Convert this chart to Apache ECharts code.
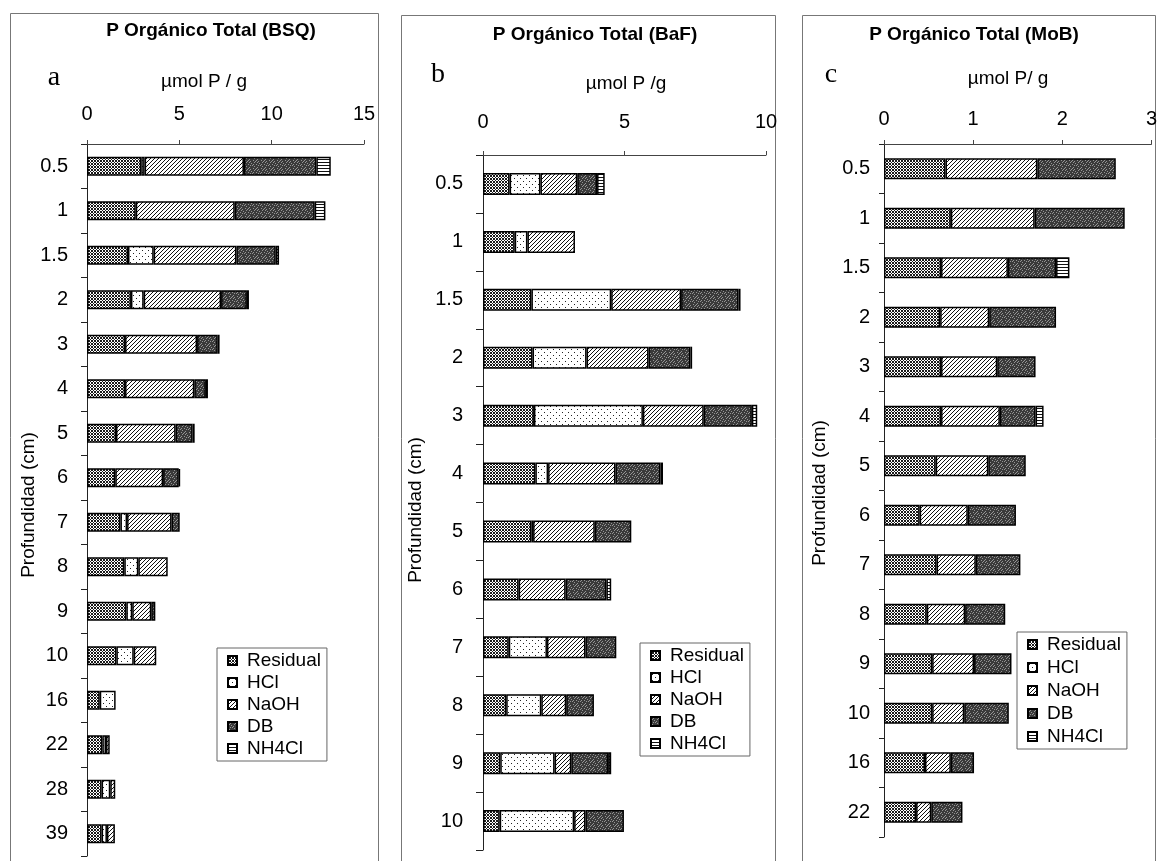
<!DOCTYPE html>
<html>
<head>
<meta charset="utf-8">
<script src="https://cdn.jsdelivr.net/npm/echarts@6/dist/echarts.min.js"></script>
<style>
  html, body { margin: 0; padding: 0; background: #fff; }
  #chart { width: 1160px; height: 861px; }
</style>
</head>
<body>
<div id="chart"></div>
<script>
// Fractions of organic P (µmol P / g) by depth, one set of arrays per core
const fractionNames = ['Residual', 'HCl', 'NaOH', 'DB', 'NH4Cl'];

// (a) BSQ
const depthsA   = ['0.5', '1', '1.5', '2', '3', '4', '5', '6', '7', '8', '9', '10', '16', '22', '28', '39'];
const residualA = [2.94, 2.64, 2.22, 2.38, 2.06, 2.06, 1.57, 1.53, 1.81, 2.02, 2.13, 1.59, 0.69, 0.83, 0.79, 0.79];
const hclA      = [0.18, 0, 1.39, 0.69, 0, 0, 0, 0, 0.36, 0.76, 0.32, 0.94, 0.86, 0.20, 0.47, 0.29];
const naohA     = [5.38, 5.36, 4.48, 4.19, 3.90, 3.75, 3.23, 2.59, 2.41, 1.59, 1.03, 1.22, 0, 0.20, 0.27, 0.43];
const dbA       = [3.92, 4.33, 2.13, 1.40, 1.12, 0.63, 0.92, 0.85, 0.44, 0, 0.22, 0, 0, 0, 0, 0];
const nh4clA    = [0.78, 0.58, 0.18, 0.11, 0.10, 0.11, 0.11, 0.07, 0, 0, 0, 0, 0, 0, 0, 0];
const ticksA    = { max: 15, interval: 5 };

// (b) BaF
const depthsB   = ['0.5', '1', '1.5', '2', '3', '4', '5', '6', '7', '8', '9', '10'];
const residualB = [0.94, 1.12, 1.71, 1.75, 1.80, 1.85, 1.71, 1.26, 0.91, 0.82, 0.61, 0.59];
const hclB      = [1.09, 0.45, 2.82, 1.91, 3.85, 0.45, 0.06, 0, 1.35, 1.24, 1.92, 2.63];
const naohB     = [1.30, 1.68, 2.47, 2.19, 2.15, 2.38, 2.18, 1.66, 1.36, 0.88, 0.59, 0.40];
const dbB       = [0.70, 0, 2.03, 1.48, 1.70, 1.59, 1.29, 1.44, 1.09, 0.98, 1.30, 1.36];
const nh4clB    = [0.27, 0, 0.07, 0.06, 0.19, 0.09, 0, 0.17, 0, 0, 0.11, 0];
const ticksB    = { max: 10, interval: 5 };

// (c) MoB
const depthsC   = ['0.5', '1', '1.5', '2', '3', '4', '5', '6', '7', '8', '9', '10', '16', '22'];
const residualC = [0.69, 0.75, 0.64, 0.63, 0.64, 0.64, 0.58, 0.40, 0.59, 0.48, 0.54, 0.54, 0.46, 0.36];
const hclC      = [0, 0, 0, 0, 0, 0, 0, 0, 0, 0, 0, 0, 0, 0];
const naohC     = [1.03, 0.94, 0.75, 0.55, 0.63, 0.66, 0.59, 0.54, 0.44, 0.43, 0.47, 0.36, 0.29, 0.17];
const dbC       = [0.88, 1.01, 0.54, 0.75, 0.43, 0.40, 0.42, 0.54, 0.50, 0.45, 0.42, 0.50, 0.26, 0.35];
const nh4clC    = [0, 0, 0.15, 0, 0, 0.09, 0, 0, 0, 0, 0, 0, 0, 0];
const ticksC    = { max: 3, interval: 1 };

const FONT = '"Liberation Sans", Arial, sans-serif';
const SERIF = '"Liberation Serif", "Times New Roman", serif';

// ---- fill textures for the five fractions ----
function tile(w, h, bg, fg, on) {
  const c = document.createElement('canvas');
  c.width = w; c.height = h;
  const ctx = c.getContext('2d');
  ctx.fillStyle = bg; ctx.fillRect(0, 0, w, h);
  ctx.fillStyle = fg;
  for (let y = 0; y < h; y++) for (let x = 0; x < w; x++) if (on(x, y)) ctx.fillRect(x, y, 1, 1);
  return { image: c, repeat: 'repeat' };
}
const speckle = [
  '10000100',
  '00100001',
  '01000010',
  '00010000',
  '10000100',
  '00101000',
  '00000010',
  '01000000'
];
const fills = [
  tile(3, 3, '#ffffff', '#1a1a1a', (x, y) => (x + y) % 3 === 0 || (x - y + 3) % 3 === 0), // cross-hatch
  tile(6, 6, '#ffffff', '#222222', (x, y) => (x === 1 && y === 1) || (x === 4 && y === 4)), // dots
  tile(4, 4, '#ffffff', '#111111', (x, y) => (x + y) % 4 === 0),                            // diagonal
  tile(8, 8, '#3a3a3a', '#949494', (x, y) => speckle[y][x] === '1'),                         // stipple
  tile(4, 3, '#ffffff', '#111111', (x, y) => y === 0)                                        // horizontal
];

function panelSeries(idx, cols, barWidth) {
  return fractionNames.map((name, i) => ({
    name,
    type: 'bar',
    stack: 'core' + idx,
    xAxisIndex: idx,
    yAxisIndex: idx,
    barWidth,
    data: cols[i].map(v => (v > 0 ? v : '-')),
    itemStyle: { color: fills[i], borderColor: '#000', borderWidth: 1.5 },
    emphasis: { disabled: true }
  }));
}

function xAxisFor(idx, t, margin) {
  return {
    type: 'value', gridIndex: idx, position: 'top', min: 0, max: t.max, interval: t.interval,
    axisLine: { show: true, lineStyle: { color: '#444', width: 1 } },
    axisTick: { show: true, length: 4, lineStyle: { color: '#444' } },
    axisLabel: { fontSize: 20, color: '#000', fontFamily: FONT, margin },
    splitLine: { show: false }
  };
}
function yAxisFor(idx, cats, margin, tickLen) {
  return {
    type: 'category', gridIndex: idx, inverse: true, data: cats,
    axisLine: { show: true, lineStyle: { color: '#222', width: 1 } },
    axisTick: { show: true, length: tickLen, lineStyle: { color: '#222' } },
    axisLabel: { fontSize: 20, color: '#000', fontFamily: FONT, margin }
  };
}
function legendAt(left, top, gap) {
  return {
    left, top, orient: 'vertical', data: fractionNames, icon: 'rect',
    itemWidth: 9, itemHeight: 9, itemGap: gap,
    borderColor: '#666', borderWidth: 1, padding: [3, 6, 3, 10],
    selectedMode: false,
    textStyle: { fontSize: 19, color: '#000', fontFamily: FONT, lineHeight: 18, padding: [0, 0, 0, 5] }
  };
}
function label(x, y, text, font, rotation) {
  return {
    type: 'text', x, y, rotation: rotation || 0, silent: true,
    style: { text, font, fill: '#000', align: 'center', verticalAlign: 'middle',
             textAlign: 'center', textVerticalAlign: 'middle' }
  };
}
function frame(x, y, w) {
  return { type: 'rect', silent: true, shape: { x, y, width: w, height: 900 },
           style: { fill: 'none', stroke: '#777', lineWidth: 1 } };
}

const chart = echarts.init(document.getElementById('chart'), null, { renderer: 'canvas' });
chart.setOption({
  animation: false,
  backgroundColor: '#fff',
  grid: [
    { left: 87, top: 144, width: 277, height: 712 },
    { left: 483, top: 155, width: 283, height: 695 },
    { left: 884, top: 144, width: 269, height: 693 }
  ],
  xAxis: [xAxisFor(0, ticksA, 20), xAxisFor(1, ticksB, 23), xAxisFor(2, ticksC, 15)],
  yAxis: [yAxisFor(0, depthsA, 19, 6), yAxisFor(1, depthsB, 20, 7), yAxisFor(2, depthsC, 14, 5)],
  legend: [legendAt(217, 648, 3), legendAt(640, 643, 3), legendAt(1017, 632, 4)],
  series: [].concat(
    panelSeries(0, [residualA, hclA, naohA, dbA, nh4clA], 19),
    panelSeries(1, [residualB, hclB, naohB, dbB, nh4clB], 22),
    panelSeries(2, [residualC, hclC, naohC, dbC, nh4clC], 21)
  ),
  graphic: [
    frame(10.5, 13.5, 368), frame(401.5, 15.5, 374), frame(802.5, 15.5, 353),
    label(211, 31, 'P Orgánico Total (BSQ)', 'bold 19px ' + FONT),
    label(595, 35, 'P Orgánico Total (BaF)', 'bold 19px ' + FONT),
    label(974, 35, 'P Orgánico Total (MoB)', 'bold 19px ' + FONT),
    label(54, 78, 'a', '28px ' + SERIF),
    label(438, 75, 'b', '28px ' + SERIF),
    label(831, 75, 'c', '28px ' + SERIF),
    label(204, 82, 'µmol P / g', '19px ' + FONT),
    label(626, 84, 'µmol P /g', '19px ' + FONT),
    label(1008, 79, 'µmol P/ g', '19px ' + FONT),
    label(29, 505, 'Profundidad (cm)', '19px ' + FONT, Math.PI / 2),
    label(416, 510, 'Profundidad (cm)', '19px ' + FONT, Math.PI / 2),
    label(820, 493, 'Profundidad (cm)', '19px ' + FONT, Math.PI / 2)
  ]
});
</script>
</body>
</html>
